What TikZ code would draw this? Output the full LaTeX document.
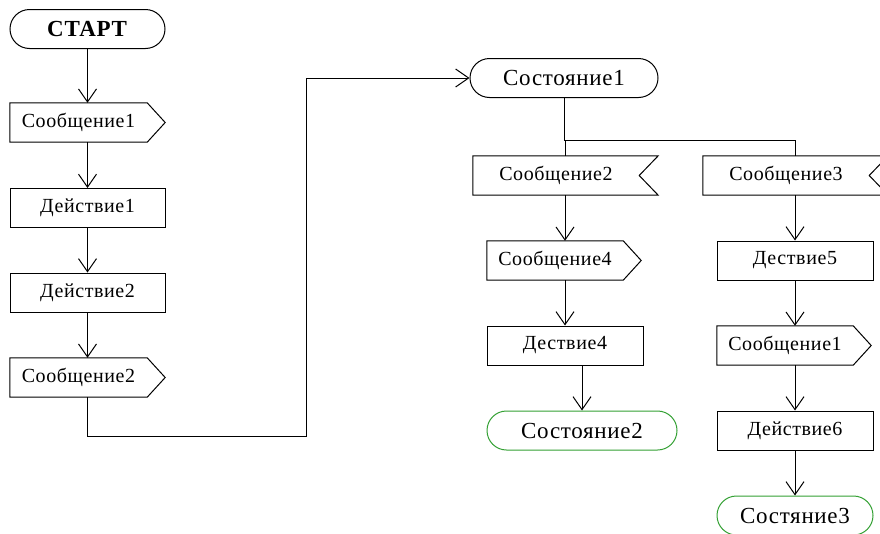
\documentclass[tikz,border=0pt]{standalone}
\usepackage{fontspec}
\setmainfont[LetterSpace=3]{Liberation Serif}
\usetikzlibrary{arrows.meta,shapes.misc,calc}

\definecolor{stategreen}{RGB}{51,160,51}

\tikzset{
  line/.style={line width=1pt, draw=black},
  arr/.style={line, -{Straight Barb[length=13pt,width=18pt,line width=1pt]}},
  txt/.style={font=\fontsize{20}{24}\selectfont},
  bigtxt/.style={font=\fontsize{23}{27}\selectfont},
  % action: plain rectangle
  actbox/.style={txt, rectangle, draw, line width=1pt, minimum width=#1, minimum height=39pt, inner sep=0pt},
  actbox/.default=155pt,
  % outgoing message: rectangle with a point on the right
  msgout/.style={txt, rectangle, minimum width=#1, minimum height=39pt, inner sep=0pt,
    append after command={\pgfextra{\draw[line] (\tikzlastnode.north west) -- (\tikzlastnode.north east)
      -- ([xshift=18pt]\tikzlastnode.east) -- (\tikzlastnode.south east)
      -- (\tikzlastnode.south west) -- cycle;}}},
  msgout/.default=137pt,
  % incoming message: rectangle with a notch on the right
  msgin/.style={txt, rectangle, minimum width=166pt, minimum height=39pt, inner sep=0pt,
    append after command={\pgfextra{\draw[line] (\tikzlastnode.north west) -- ([xshift=19pt]\tikzlastnode.north east)
      -- (\tikzlastnode.east) -- ([xshift=19pt]\tikzlastnode.south east)
      -- (\tikzlastnode.south west) -- cycle;}}},
  % states / terminals
  term/.style={bigtxt, rounded rectangle, draw, line width=1pt, minimum width=#1, minimum height=39pt, inner sep=0pt},
  endstate/.style={term=#1, draw=stategreen},
}

\begin{document}
\begin{tikzpicture}[x=1pt,y=-1pt]
\useasboundingbox (0,0) rectangle (880,533);

% left column
\node[term=155pt] (start) at (87.5,29) {\textbf{СТАРТ}};
\node[msgout] (m1) at (78.5,122.5) {Сообщение1};
\node[actbox] (a1) at (87.5,208) {Действие1};
\node[actbox] (a2) at (87.5,292.5) {Действие2};
\node[msgout] (m2) at (78.5,377.5) {Сообщение2};

% state 1 and its branches
\node[term=188pt] (s1) at (564,78) {Состояние1};
\node[msgin] (r1) at (556,175.5) {Сообщение2};
\node[msgin] (r2) at (786,175.5) {Сообщение3};

\node[msgout=136pt] (m4) at (555,260.5) {Сообщение4};
\node[actbox=156pt] (a4) at (565,345.5) {Дествие4};
\node[endstate=190pt] (s2) at (582,430.5) {Состояние2};

\node[actbox=156pt] (a5) at (795,260.5) {Дествие5};
\node[msgout=136pt] (m5) at (785,345.5) {Сообщение1};
\node[actbox=156pt] (a6) at (795,430.5) {Действие6};
\node[endstate=156pt] (s3) at (795,515.5) {Состяние3};

\coordinate (jt) at (306,436);
\coordinate (split) at (564,140);

% connectors, left column
\draw[arr] (start.south) -- ([xshift=9pt]m1.north);
\draw[arr] ([xshift=9pt]m1.south) -- (a1.north);
\draw[arr] (a1.south) -- (a2.north);
\draw[arr] (a2.south) -- ([xshift=9pt]m2.north);
\draw[arr] ([xshift=9pt]m2.south) |- (jt) |- (s1.west);

% fork below state 1
\draw[line] (s1.south) -- (split);
\draw[line] (split) -| ([xshift=9pt]r1.north);
\draw[line] (split) -| ([xshift=9pt]r2.north);

% left branch
\draw[arr] ([xshift=9pt]r1.south) -- ([xshift=10pt]m4.north);
\draw[arr] ([xshift=10pt]m4.south) -- (a4.north);
\draw[arr] ([xshift=17pt]a4.south) -- (s2.north);

% right branch
\draw[arr] ([xshift=9pt]r2.south) -- (a5.north);
\draw[arr] (a5.south) -- ([xshift=10pt]m5.north);
\draw[arr] ([xshift=10pt]m5.south) -- (a6.north);
\draw[arr] (a6.south) -- (s3.north);
\end{tikzpicture}
\end{document}
